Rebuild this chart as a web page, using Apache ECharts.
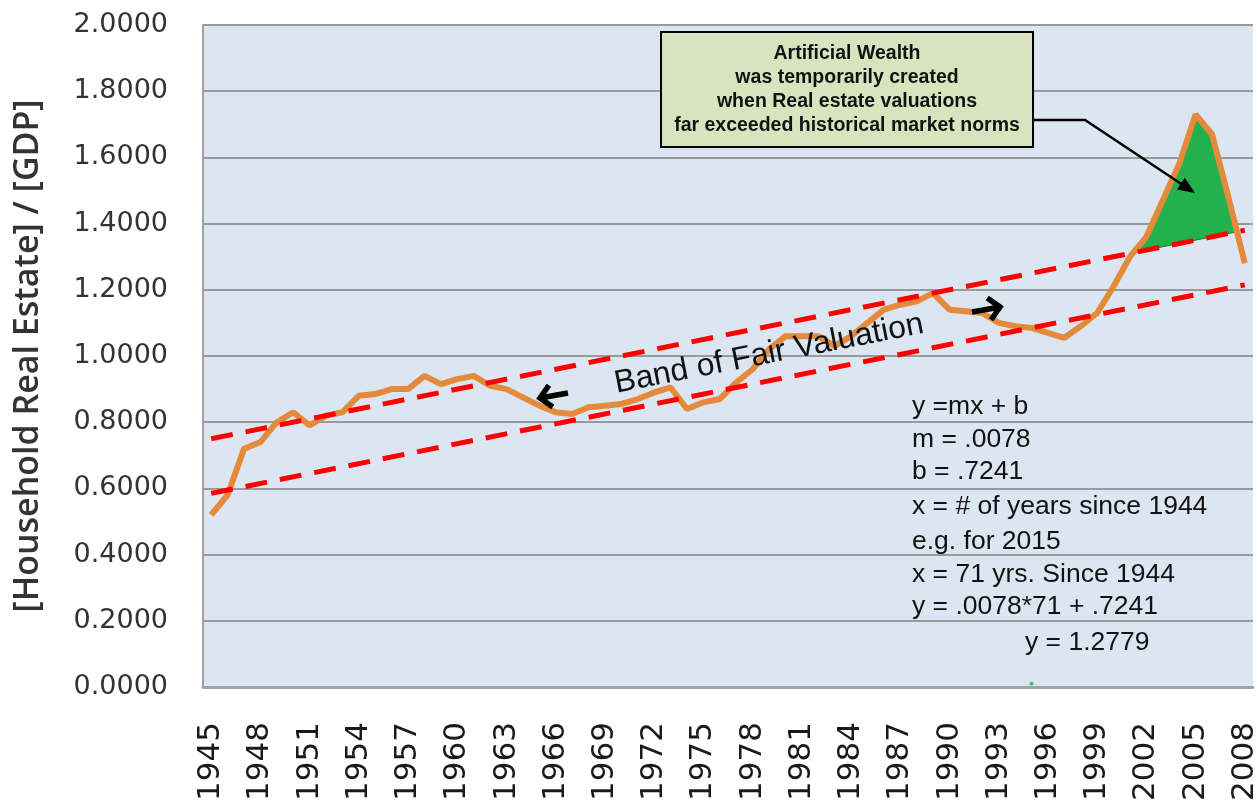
<!DOCTYPE html>
<html>
<head>
<meta charset="utf-8">
<script src="https://cdn.jsdelivr.net/npm/echarts@6/dist/echarts.min.js"></script>
<style>
  html, body { margin: 0; padding: 0; background: #ffffff; }
  #chart { width: 1258px; height: 810px; }
</style>
</head>
<body>
<div id="chart"></div>
<script>
// Years on the category axis
const years = [
  '1945','1946','1947','1948','1949','1950','1951','1952','1953','1954',
  '1955','1956','1957','1958','1959','1960','1961','1962','1963','1964',
  '1965','1966','1967','1968','1969','1970','1971','1972','1973','1974',
  '1975','1976','1977','1978','1979','1980','1981','1982','1983','1984',
  '1985','1986','1987','1988','1989','1990','1991','1992','1993','1994',
  '1995','1996','1997','1998','1999','2000','2001','2002','2003','2004',
  '2005','2006','2007','2008'
];

// Household real estate value divided by GDP
const ratio = [
  0.52, 0.58, 0.72, 0.74, 0.80, 0.83, 0.79, 0.82, 0.83, 0.88,
  0.885, 0.90, 0.90, 0.94, 0.915, 0.93, 0.94, 0.91, 0.90, 0.875,
  0.85, 0.83, 0.825, 0.845, 0.85, 0.855, 0.87, 0.89, 0.905, 0.84,
  0.86, 0.87, 0.92, 0.96, 1.02, 1.06, 1.06, 1.06, 1.03, 1.06,
  1.10, 1.14, 1.155, 1.165, 1.19, 1.14, 1.135, 1.13, 1.10, 1.09,
  1.085, 1.07, 1.055, 1.09, 1.13, 1.21, 1.30, 1.36, 1.47, 1.58,
  1.73, 1.67, 1.48, 1.28
];

// Straight "fair valuation" band edges, given at their end years
const bandYears = ['1945', '2008'];
const upperBand = [0.75, 1.38];
const lowerBand = [0.585, 1.215];

// Excess above the band is shaded from this year on
const excessFrom = '2000';

// Small marker near the axis
const markerYear = ['1995'];
const markerValue = [0.01];

// Y-axis tick range
const yMin = 0, yMax = 2, yStep = 0.2;

const boxLines = [
  'Artificial Wealth',
  'was temporarily created',
  'when Real estate valuations',
  'far exceeded historical market norms'
];

const formulaLines = [
  'y =mx + b',
  'm = .0078',
  'b = .7241',
  'x = # of years since 1944',
  'e.g. for 2015',
  'x = 71 yrs. Since 1944',
  'y = .0078*71 + .7241'
];
const formulaResult = 'y = 1.2779';

function bandValue(band, idx) {
  const i0 = years.indexOf(bandYears[0]);
  const i1 = years.indexOf(bandYears[1]);
  return band[0] + (band[1] - band[0]) * (idx - i0) / (i1 - i0);
}

// Polygon of the part of the curve that lies above the upper band edge
function renderExcess(params, api) {
  const start = years.indexOf(excessFrom);
  const pts = [];
  for (let i = start; i < years.length; i++) {
    const d = ratio[i] - bandValue(upperBand, i);
    const p = api.coord([i, ratio[i]]);
    if (i > start) {
      const dPrev = ratio[i - 1] - bandValue(upperBand, i - 1);
      if ((dPrev < 0) !== (d < 0)) {
        const q = api.coord([i - 1, ratio[i - 1]]);
        const t = dPrev / (dPrev - d);
        pts.push([q[0] + t * (p[0] - q[0]), q[1] + t * (p[1] - q[1])]);
      }
    }
    if (d >= 0) pts.push(p);
  }
  return {
    type: 'polygon',
    shape: { points: pts },
    style: { fill: '#22b14c', stroke: '#1a7a35', lineWidth: 1 }
  };
}

function arrowShapes(tail, tip, head, width) {
  const dx = tip[0] - tail[0], dy = tip[1] - tail[1];
  const len = Math.hypot(dx, dy);
  const ux = dx / len, uy = dy / len;
  const bx = tip[0] - ux * head, by = tip[1] - uy * head;
  return [
    { type: 'polyline', shape: { points: [tail, tip] },
      style: { stroke: '#000', lineWidth: width, lineCap: 'butt' }, z: 20 },
    { type: 'polyline',
      shape: { points: [[bx - uy * head, by + ux * head], tip, [bx + uy * head, by - ux * head]] },
      style: { stroke: '#000', lineWidth: width, lineJoin: 'miter', fill: null }, z: 20 }
  ];
}

function pointerShapes(points, head, halfW) {
  const a = points[points.length - 2], tip = points[points.length - 1];
  const dx = tip[0] - a[0], dy = tip[1] - a[1];
  const len = Math.hypot(dx, dy);
  const ux = dx / len, uy = dy / len;
  const bx = tip[0] - ux * head, by = tip[1] - uy * head;
  const line = points.slice(0, -1).concat([[bx + ux * 2, by + uy * 2]]);
  return [
    { type: 'polyline', shape: { points: line },
      style: { stroke: '#000', lineWidth: 2.5 }, z: 20 },
    { type: 'polygon',
      shape: { points: [tip, [bx - uy * halfW, by + ux * halfW], [bx + uy * halfW, by - ux * halfW]] },
      style: { fill: '#000' }, z: 20 }
  ];
}

const chart = echarts.init(document.getElementById('chart'), null, { renderer: 'canvas' });

const textFont = '"Liberation Sans", Arial, sans-serif';
const formulaY = [407, 440, 472, 507, 542, 575, 607];
const graphics = [
  { type: 'rect', shape: { x: 661, y: 32, width: 372, height: 115 },
    style: { fill: '#d7e4bd', stroke: '#000', lineWidth: 2 }, z: 20 },
  { type: 'text', x: 847, y: 90, z: 21,
    style: { text: boxLines.join('\n'), align: 'center', verticalAlign: 'middle',
      font: 'bold 19.5px ' + textFont, lineHeight: 24, fill: '#111' } },
  { type: 'text', x: 769, y: 354, rotation: 11 * Math.PI / 180, z: 21,
    style: { text: 'Band of Fair Valuation', align: 'center', verticalAlign: 'middle',
      font: '32px ' + textFont, fill: '#111' } }
].concat(
  pointerShapes([[1034, 120], [1085, 120], [1195, 193]], 17, 7),
  arrowShapes([568, 393], [540, 398], 11, 5.5),
  arrowShapes([972, 312], [1000, 307], 11, 5.5),
  formulaLines.map((t, k) => ({
    type: 'text', x: 912, y: formulaY[k], z: 21,
    style: { text: t, align: 'left', verticalAlign: 'middle',
      font: '26.5px ' + textFont, fill: '#111' }
  })),
  [{ type: 'text', x: 1025, y: 643, z: 21,
    style: { text: formulaResult, align: 'left', verticalAlign: 'middle',
      font: '26.5px ' + textFont, fill: '#111' } }]
);

chart.setOption({
  animation: false,
  backgroundColor: '#ffffff',
  grid: {
    left: 203, right: 5, top: 25, bottom: 123,
    outerBoundsMode: 'none',
    show: true, backgroundColor: '#dce6f2', borderWidth: 0
  },
  xAxis: {
    type: 'category',
    data: years,
    boundaryGap: true,
    axisLine: { show: true, lineStyle: { color: '#a3a3a3', width: 3 } },
    axisTick: { show: false },
    axisLabel: {
      interval: 2, rotate: 90, margin: 35,
      fontFamily: '"DejaVu Sans", sans-serif', fontSize: 31, color: '#1a1a1a'
    },
    splitLine: { show: false }
  },
  yAxis: {
    type: 'value',
    min: yMin, max: yMax, interval: yStep,
    name: '[Household Real Estate] / [GDP]',
    nameLocation: 'middle', nameRotate: 90, nameGap: 158,
    nameTextStyle: { fontFamily: '"Open Sans", sans-serif', fontWeight: 600, fontSize: 34, color: '#333' },
    axisLine: { show: true, lineStyle: { color: '#a0a0a0', width: 2 } },
    axisTick: { show: false },
    axisLabel: {
      margin: 35, formatter: v => v.toFixed(4),
      fontFamily: '"DejaVu Sans", sans-serif', fontSize: 27, color: '#333'
    },
    splitLine: { show: true, lineStyle: { color: '#9a9a9a', width: 2 } }
  },
  series: [
    {
      type: 'custom', name: 'excess', silent: true, z: 1,
      data: [[0, 0]], renderItem: renderExcess
    },
    {
      type: 'line', name: 'ratio', data: ratio, symbol: 'none', z: 2,
      lineStyle: { color: '#e38a3b', width: 6 }
    },
    {
      type: 'line', name: 'upper', z: 3, symbol: 'none',
      data: bandYears.map((y, k) => [y, upperBand[k]]),
      lineStyle: { color: '#ff0000', width: 5, type: [22, 13] }
    },
    {
      type: 'line', name: 'lower', z: 3, symbol: 'none',
      data: bandYears.map((y, k) => [y, lowerBand[k]]),
      lineStyle: { color: '#ff0000', width: 5, type: [22, 13] }
    },
    {
      type: 'scatter', name: 'marker', z: 3, symbolSize: 4,
      data: markerYear.map((y, k) => [y, markerValue[k]]),
      itemStyle: { color: '#22b14c' }
    }
  ],
  graphic: graphics
});
</script>
</body>
</html>
